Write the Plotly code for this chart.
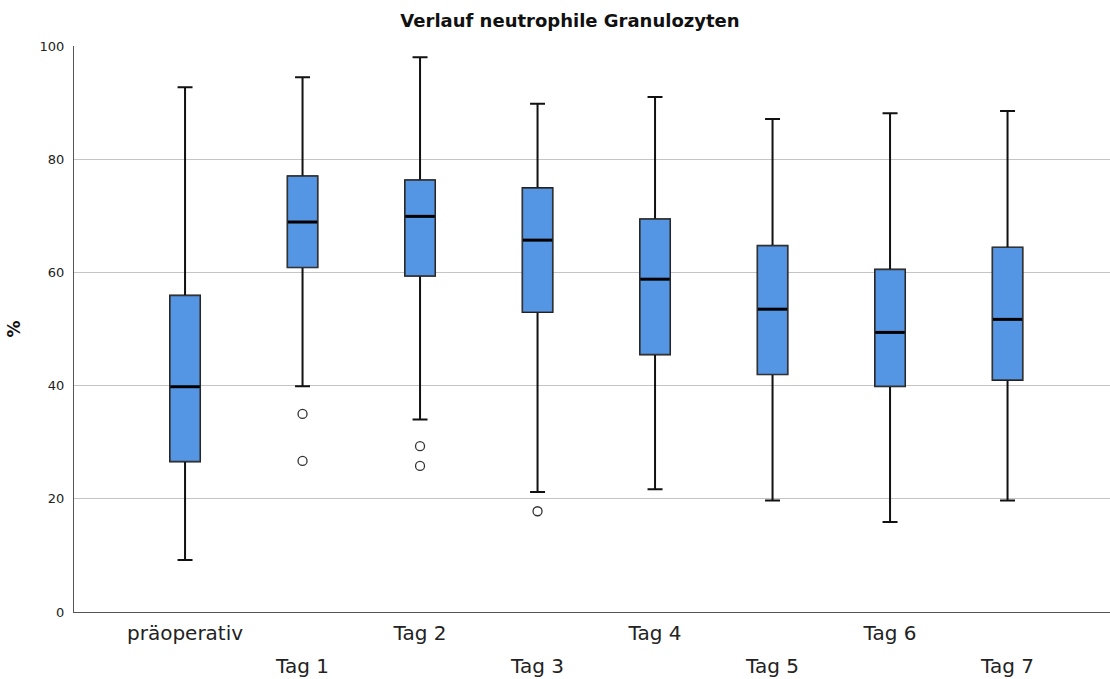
import plotly.graph_objects as go

# Verlauf neutrophile Granulozyten (%), Kennwerte je Zeitpunkt
kategorien = ["präoperativ", "Tag 1", "Tag 2", "Tag 3", "Tag 4", "Tag 5", "Tag 6", "Tag 7"]
minimum = [9.2, 39.9, 34.0, 21.2, 21.7, 19.7, 15.9, 19.7]
q1 = [26.6, 60.9, 59.4, 53.0, 45.5, 42.0, 39.9, 41.0]
median = [39.8, 68.9, 69.9, 65.7, 58.8, 53.5, 49.4, 51.7]
q3 = [55.9, 77.0, 76.3, 74.9, 69.4, 64.7, 60.5, 64.4]
maximum = [92.7, 94.5, 98.0, 89.8, 91.0, 87.1, 88.1, 88.5]

# Ausreißer: Index des Zeitpunkts und Wert
ausreisser_idx = [1, 1, 2, 2, 3]
ausreisser_wert = [35.0, 26.7, 29.3, 25.8, 17.8]

pos = list(range(len(kategorien)))
FONT = "DejaVu Sans"
BOX_W = 0.255
X_RANGE = [-0.945, 7.872]

fig = go.Figure()

# Whisker (schwarz, kräftig)
fig.add_trace(go.Box(
    x=pos, q1=q1, median=median, q3=q3,
    lowerfence=minimum, upperfence=maximum,
    width=BOX_W, whiskerwidth=0.5,
    fillcolor="rgba(0,0,0,0)",
    line=dict(color="#111111", width=2),
    hoverinfo="skip", showlegend=False,
))

# Boxen (blau gefüllt, dünner Rand)
fig.add_trace(go.Box(
    x=pos, q1=q1, median=median, q3=q3,
    lowerfence=q1, upperfence=q3,
    width=BOX_W, whiskerwidth=0.5,
    fillcolor="#5596E4",
    line=dict(color="#333333", width=1.2),
    showlegend=False,
))

# Median als dicke schwarze Linie (Breite = Boxbreite)
fig.add_trace(go.Scatter(
    x=pos, y=median, mode="markers",
    marker=dict(symbol="line-ew", size=21,
                line=dict(color="#000000", width=3)),
    showlegend=False, hoverinfo="skip",
))

# Ausreißer als offene Kreise
fig.add_trace(go.Scatter(
    x=ausreisser_idx, y=ausreisser_wert, mode="markers",
    xaxis="x2",
    marker=dict(symbol="circle-open", size=9,
                line=dict(color="#333333", width=1.3), color="#333333"),
    showlegend=False,
))

gerade = [i for i in pos if i % 2 == 0]
ungerade = [i for i in pos if i % 2 == 1]

fig.update_layout(
    width=1110, height=679,
    margin=dict(l=74, r=0, t=46, b=67),
    paper_bgcolor="white", plot_bgcolor="white",
    font=dict(family=FONT, color="#222222"),
    title=dict(text="<b>Verlauf neutrophile Granulozyten</b>",
               x=570 / 1110, xanchor="center", xref="container",
               y=0.970, yanchor="middle",
               font=dict(size=18, color="#111111", family=FONT)),
    xaxis=dict(
        range=X_RANGE, tickmode="array",
        tickvals=gerade, ticktext=[kategorien[i] for i in gerade],
        tickangle=0, showgrid=False, zeroline=False,
        showline=True, linecolor="#555555", linewidth=1.2,
        ticks="", tickfont=dict(size=20, color="#222222"),
        ticklabelstandoff=3,
    ),
    xaxis2=dict(
        range=X_RANGE, overlaying="x", anchor="y", side="bottom",
        tickmode="array",
        tickvals=ungerade, ticktext=[kategorien[i] for i in ungerade],
        tickangle=0, showgrid=False, zeroline=False, showline=False,
        ticks="", tickfont=dict(size=20, color="#222222"),
        ticklabelstandoff=40,
    ),
    yaxis=dict(
        range=[0, 100], tickmode="array", tickvals=[0, 20, 40, 60, 80, 100],
        showgrid=True, gridcolor="#C4C4C4", gridwidth=1,
        zeroline=False, showline=True, linecolor="#555555", linewidth=1.2,
        ticks="", tickfont=dict(size=13, color="#222222"),
        ticklabelstandoff=6,
        title=dict(text="<b>%</b>", font=dict(size=17, color="#111111"),
                   standoff=14),
    ),
)

fig.write_html("out.html")
